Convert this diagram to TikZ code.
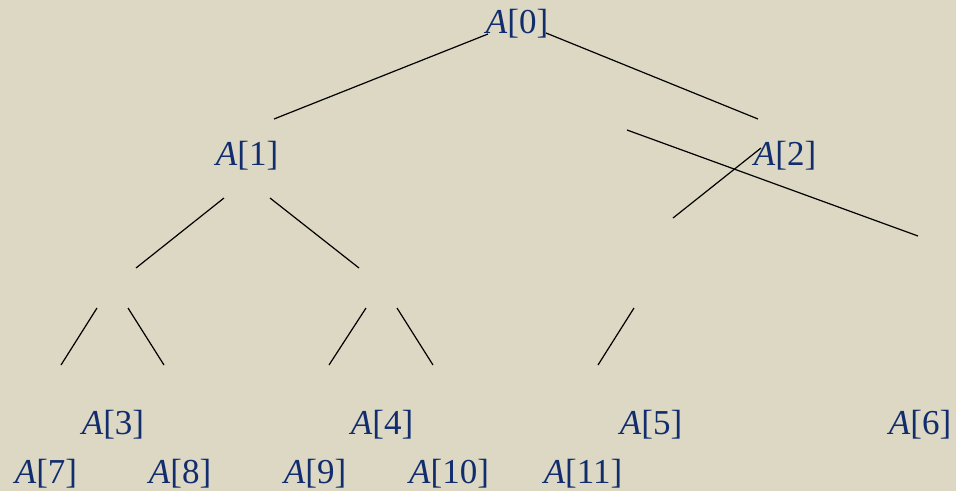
\documentclass[tikz,border=0pt]{standalone}
\usepackage{fontspec}
\setmainfont{Liberation Serif}
\definecolor{paper}{RGB}{220,216,196}
\definecolor{ink}{RGB}{18,45,110}
\tikzset{
    elem/.style = {text = ink, font = \fontsize{35}{40}\selectfont, inner sep = 0pt},
    edge/.style = {draw = black, line width = 1.2pt}
}
\begin{document}
\begin{tikzpicture}[x=1pt, y=-1pt]
            \fill[paper] (0,0) rectangle (956,491);
            \useasboundingbox (0,0) rectangle (956,491);
            % the array elements
            \node[elem] (a0) at (517,24) {\textit{A}[0]};
            \node[elem] (a1) at (247,156) {\textit{A}[1]};
            \node[elem] (a2) at (785,156) {\textit{A}[2]};
            \node[elem] (a3) at (113,425) {\textit{A}[3]};
            \node[elem] (a4) at (382,425) {\textit{A}[4]};
            \node[elem] (a5) at (651,425) {\textit{A}[5]};
            \node[elem] (a6) at (920,425) {\textit{A}[6]};
            \node[elem] (a7) at (46,474) {\textit{A}[7]};
            \node[elem] (a8) at (180,474) {\textit{A}[8]};
            \node[elem] (a9) at (315,474) {\textit{A}[9]};
            \node[elem] (a10) at (449,474) {\textit{A}[10]};
            \node[elem] (a11) at (583,474) {\textit{A}[11]};
            % loose line ends
            \coordinate (l0a) at (488,34);   \coordinate (l0b) at (274,119);
            \coordinate (r0a) at (546,33);   \coordinate (r0b) at (758,119);
            \coordinate (l1a) at (224,198);  \coordinate (l1b) at (136,268);
            \coordinate (r1a) at (270,198);  \coordinate (r1b) at (359,268);
            \coordinate (l2a) at (761,148);  \coordinate (l2b) at (673,218);
            \coordinate (r2a) at (627,130);  \coordinate (r2b) at (918,236);
            \coordinate (l3a) at (97,308);   \coordinate (l3b) at (61,365);
            \coordinate (r3a) at (128,308);  \coordinate (r3b) at (164,365);
            \coordinate (l4a) at (366,308);  \coordinate (l4b) at (329,365);
            \coordinate (r4a) at (397,308);  \coordinate (r4b) at (433,365);
            \coordinate (l5a) at (634,308);  \coordinate (l5b) at (598,365);
            \draw[edge] (l0a) -- (l0b);
            \draw[edge] (r0a) -- (r0b);
            \draw[edge] (l1a) -- (l1b);
            \draw[edge] (r1a) -- (r1b);
            \draw[edge] (l2a) -- (l2b);
            \draw[edge] (r2a) -- (r2b);
            \draw[edge] (l3a) -- (l3b);
            \draw[edge] (r3a) -- (r3b);
            \draw[edge] (l4a) -- (l4b);
            \draw[edge] (r4a) -- (r4b);
            \draw[edge] (l5a) -- (l5b);
        \end{tikzpicture}
\end{document}
